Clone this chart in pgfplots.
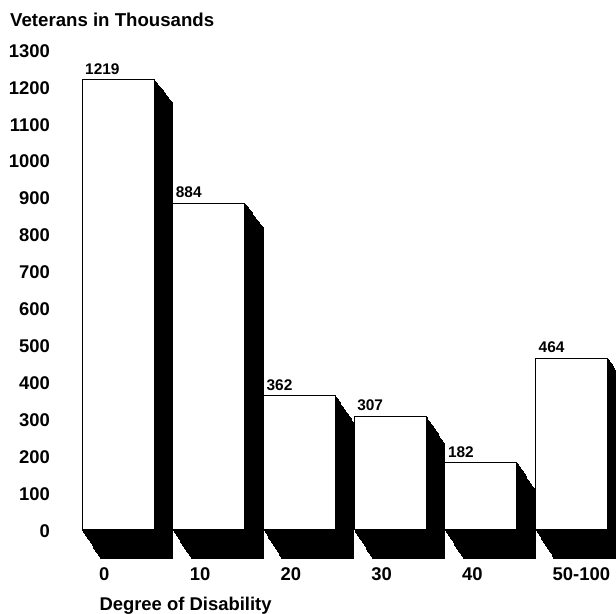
\documentclass[border=0pt]{standalone}
\usepackage{fontspec}
\setmainfont{Liberation Sans}
\usepackage{pgfplots}
\usepackage{pgfplotstable}
\pgfplotsset{compat=1.18}

% one step of the black depth drawn behind each bar
\tikzset{sh/.style={preaction={fill=black, draw=black, line width=1bp,
  transform canvas={shift={(#1*18.4bp,-#1*29bp)}, yscale=1+#1*0.0124}}}}

\pgfplotstableread{
x  vets
0  1219
1  884
2  362
3  307
4  182
5  464
}\vets

\begin{document}
\begin{tikzpicture}
\begin{axis}[
  at={(0,0)}, anchor=origin,
  x=90.7bp, y=0.3692bp,
  xmin=-0.5, xmax=5.5, ymin=0, ymax=1300,
  clip=false,
  axis line style={draw=none},
  major tick length=0pt,
  ybar, bar width=72bp, bar shift=0pt,
  xtick={0,...,5},
  xticklabels={0,10,20,30,40,50-100},
  ytick={0,100,...,1300},
  /pgf/number format/1000 sep={},
  /pgf/number format/assume math mode=true,
  tick label style={font=\fontsize{18.5}{20}\selectfont\bfseries, inner sep=0pt},
  yticklabel style={anchor=east, xshift=-22.65bp, yshift=-1.5bp},
  xticklabel style={anchor=north west, xshift=-19bp, yshift=-38.5bp},
  every axis y label/.style={at={(axis description cs:-0.1151,1.0471)},
    anchor=base west, inner sep=0pt, font=\fontsize{18.7}{20}\selectfont\bfseries},
  ylabel={Veterans in Thousands},
  every axis x label/.style={at={(axis description cs:0.049,-0.1702)},
    anchor=base west, inner sep=0pt, font=\fontsize{18.5}{20}\selectfont\bfseries},
  xlabel={Degree of Disability},
]
\addplot[fill=white, draw=black, line width=0.8bp,
  sh=1, sh=0.95, sh=0.9, sh=0.85, sh=0.8, sh=0.75, sh=0.7, sh=0.65,
  sh=0.6, sh=0.55, sh=0.5, sh=0.45, sh=0.4, sh=0.35, sh=0.3, sh=0.25,
  sh=0.2, sh=0.15, sh=0.1, sh=0.05] table[x=x, y=vets] {\vets};
\addplot[draw=none, fill=none, nodes near coords,
  every node near coord/.append style={anchor=base west, inner sep=0pt,
    xshift=-33bp, yshift=5bp, text=black,
    font=\fontsize{15.5}{17}\selectfont\bfseries}]
  table[x=x, y=vets] {\vets};
\end{axis}
\pgfresetboundingbox
\path (-118bp,-84.7bp) rectangle (498bp,529.3bp);
\end{tikzpicture}
\end{document}
